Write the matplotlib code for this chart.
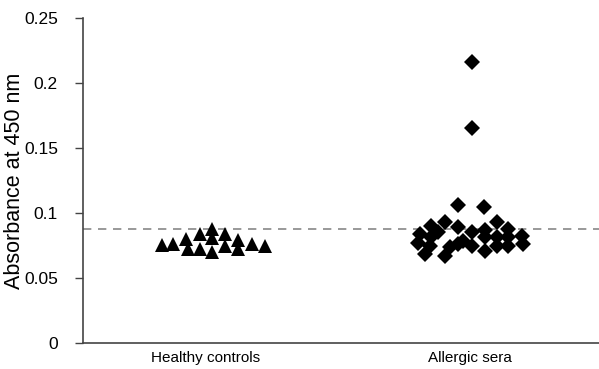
import matplotlib
matplotlib.use("Agg")
import matplotlib.pyplot as plt
from matplotlib.ticker import FuncFormatter

plt.rcParams['font.family'] = ['Liberation Sans', 'DejaVu Sans']

categories = ["Healthy controls", "Allergic sera"]

# healthy controls: horizontal offset from the category centre, absorbance
healthy_offset = [-0.168, -0.124, -0.076, -0.067, -0.023, -0.023, 0.022, 0.022,
                  0.022, 0.072, 0.072, 0.123, 0.123, 0.173, 0.224]
healthy_abs = [0.0754, 0.0762, 0.0800, 0.0723, 0.0839, 0.0723, 0.0875, 0.0805,
               0.0702, 0.0839, 0.0743, 0.0795, 0.0723, 0.0762, 0.0748]

# allergic sera
allergic_offset = [0.006, 0.006, -0.044, 0.054, -0.146, -0.095, -0.044, 0.006,
                   0.057, 0.101, 0.145, -0.190, -0.196, -0.146, -0.121, -0.152,
                   -0.171, -0.095, -0.076, -0.044, -0.025, 0.006, 0.057, 0.057,
                   0.101, 0.101, 0.145, 0.145, 0.196, 0.202]
allergic_abs = [0.2163, 0.1654, 0.1065, 0.1044, 0.0903, 0.0928, 0.0890, 0.0851,
                0.0870, 0.0928, 0.0877, 0.0839, 0.0766, 0.0813, 0.0851, 0.0748,
                0.0684, 0.0671, 0.0735, 0.0762, 0.0787, 0.0748, 0.0813, 0.0710,
                0.0813, 0.0748, 0.0813, 0.0748, 0.0826, 0.0762]

cutoff = 0.088

fig = plt.figure(figsize=(5.99, 3.69), dpi=100)
ax = fig.add_axes([83 / 599, 1 - 343 / 369, 1 - 83 / 599, (343 - 18) / 369])

ax.plot([0 + o for o in healthy_offset], healthy_abs, linestyle="none",
        marker="^", markersize=9.5, color="black", markeredgewidth=0)
ax.plot([1 + o for o in allergic_offset], allergic_abs, linestyle="none",
        marker="D", markersize=8, color="black", markeredgewidth=0)

ax.axhline(cutoff, color="#888888", linestyle=(0, (5, 4)), linewidth=1.2, zorder=0)

ax.set_xlim(-0.466, 1.489)
ax.set_ylim(0, 0.25)
ax.set_xticks([0, 1])
ax.set_xticklabels(categories, fontsize=11)
ax.set_yticks([0, 0.05, 0.1, 0.15, 0.2, 0.25])
ax.yaxis.set_major_formatter(FuncFormatter(lambda v, p: "%g" % v))
ax.tick_params(axis="y", labelsize=12.5, length=6, width=1, color="#444444", pad=12)
ax.tick_params(axis="x", length=0, pad=6)
ax.set_ylabel("Absorbance at 450 nm", fontsize=15.5, labelpad=-1)

for side in ["top", "right"]:
    ax.spines[side].set_visible(False)
for side in ["left", "bottom"]:
    ax.spines[side].set_color("#444444")
    ax.spines[side].set_linewidth(1.2)

fig.savefig("out.png", dpi=100)
